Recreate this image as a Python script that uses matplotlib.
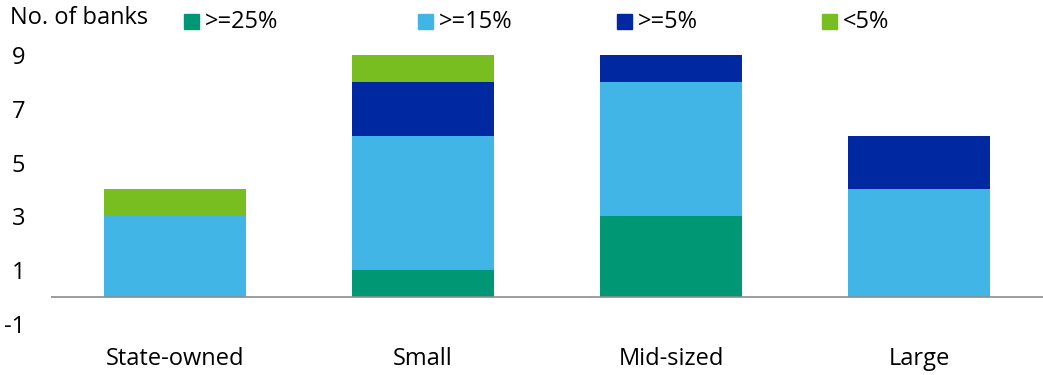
import matplotlib
matplotlib.use("Agg")
import matplotlib.pyplot as plt
from matplotlib.patches import Rectangle
import numpy as np

categories = ["State-owned", "Small", "Mid-sized", "Large"]
series_names = [">=25%", ">=15%", ">=5%", "<5%"]
v_ge25 = [0, 1, 3, 0]
v_ge15 = [3, 5, 5, 4]
v_ge5 = [0, 2, 1, 2]
v_lt5 = [1, 1, 0, 0]
yticks = [-1, 1, 3, 5, 7, 9]
colors = ["#009775", "#41B6E6", "#0028A0", "#78BE20"]

plt.rcParams['font.family'] = ['Open Sans', 'DejaVu Sans']
FS = 17
fig = plt.figure(figsize=(10.43, 3.75), dpi=100)
ax = fig.add_axes([51/1043, 1-337.3/375, 992/1043, (337.3-41.5)/375])

x = np.arange(len(categories))
bottom = np.zeros(len(categories))
for vals, c in zip([v_ge25, v_ge15, v_ge5, v_lt5], colors):
    ax.bar(x, vals, width=0.57, bottom=bottom, color=c, linewidth=0)
    bottom += np.array(vals)

ax.set_xlim(-0.5, 3.5)
ax.set_ylim(-1.5, 9.5)
ax.set_yticks(yticks)
ax.set_yticklabels([str(t) for t in yticks], fontsize=FS)
ax.set_xticks(x)
ax.set_xticklabels(categories, fontsize=FS)
ax.tick_params(axis='both', length=0)
ax.tick_params(axis='y', pad=18.5)
ax.tick_params(axis='x', pad=7)
for s in ax.spines.values():
    s.set_visible(False)
ax.axhline(0, color="#8c8c8c", linewidth=1.2)

fig.text(10/1043, 1-18/375, "No. of banks", fontsize=FS, va='center', ha='left')
leg_x = [184, 418, 617, 822]
for lx, name, c in zip(leg_x, series_names, colors):
    fig.patches.append(Rectangle((lx/1043, 1-29/375), 15/1043, 15/375,
                                 transform=fig.transFigure, color=c, figure=fig))
    fig.text((lx+21)/1043, 1-22/375, name, fontsize=FS, va='center', ha='left')

fig.savefig("out.png", dpi=100)
